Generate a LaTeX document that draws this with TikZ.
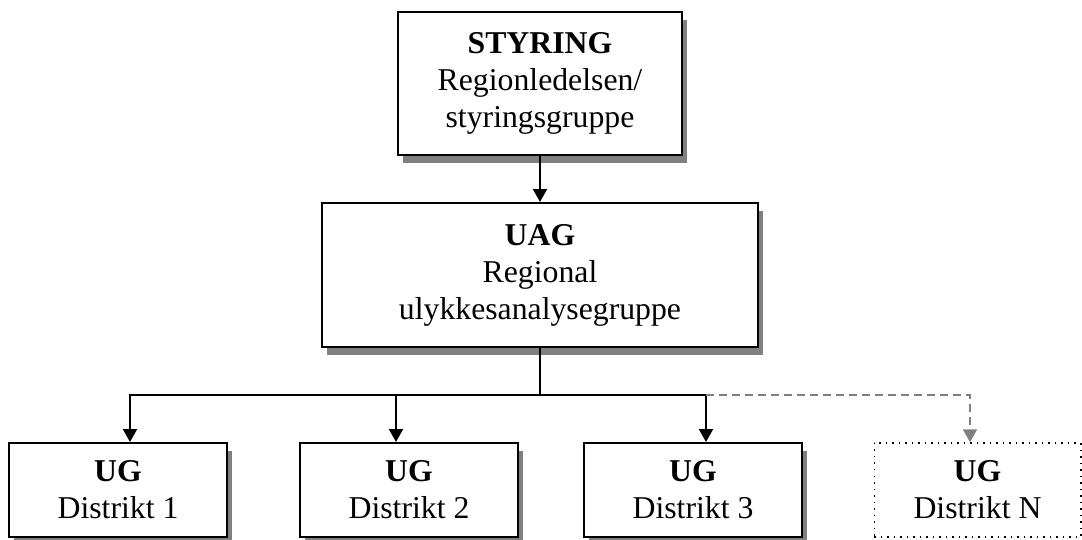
\documentclass[tikz,border=0pt]{standalone}
\usepackage{fontspec}
\setmainfont{Liberation Serif}
\usetikzlibrary{shadows,arrows.meta}

\definecolor{shade}{HTML}{808080}
\tikzstyle{rec} = [rectangle, fill = white, draw = black, line width = 0.8pt, text centered, align=center, font=\fontsize{12.7}{14.8}\selectfont, general shadow={fill=shade, shadow xshift=2pt, shadow yshift=-3.2pt}]
\tikzstyle{recn} = [rectangle, fill = white, draw = black, dotted, line width = 0.6pt, text centered, align=center, font=\fontsize{12.7}{14.8}\selectfont]
\tikzstyle{arrow} = [line width = 0.8pt, -{Triangle[length=5.2pt, width=5.6pt]}, draw = black]
\tikzstyle{arrow1} = [line width = 0.8pt, dash pattern=on 3.2pt off 2pt, -{Triangle[length=5.2pt, width=5.6pt]}, draw = shade]
\tikzstyle{line} = [line width = 0.8pt, -, draw = black]

\begin{document}
\begin{tikzpicture}[x=0.4pt, y=-0.4pt, node distance = 76.6pt]
        \useasboundingbox (0,0) rectangle (1082,540);
    	\node(styring)[rec, minimum width = 113.6pt, minimum height = 57.2pt] at (540,83.5) {\textbf{STYRING}\\Regionledelsen/\\styringsgruppe};
        \node(uag)[rec, below of = styring, minimum width = 174pt, minimum height = 57.6pt]{\textbf{UAG}\\Regional\\ulykkesanalysegruppe};
        \node(ug1)[rec, minimum width = 87.2pt, minimum height = 37.6pt] at (118,490) {\textbf{UG}\\Distrikt 1};
        \node(ug2)[rec, minimum width = 87.2pt, minimum height = 37.6pt] at (409,490) {\textbf{UG}\\Distrikt 2};
        \node(ug3)[rec, minimum width = 87.2pt, minimum height = 37.6pt] at (693,490) {\textbf{UG}\\Distrikt 3};
        \node(ugn)[recn, minimum width = 82.6pt, minimum height = 37.6pt] at (977.5,490) {\textbf{UG}\\Distrikt N};
        \coordinate(j1) at (130,395);
        \coordinate(j2) at (396,395);
        \coordinate(j3) at (706,395);
        \coordinate(jn) at (970,395);
        \draw[arrow] (styring.south) -- (uag.north);
        \draw[line] (uag.south) -- (uag.south |- j1);
        \draw[arrow] (j3) -- (j1) -- (j1 |- ug1.north);
        \draw[arrow] (j2) -- (j2 |- ug2.north);
        \draw[arrow] (j3) -- (j3 |- ug3.north);
        \draw[arrow1] (j3) -- (jn) -- (jn |- ugn.north);
    \end{tikzpicture}
\end{document}
